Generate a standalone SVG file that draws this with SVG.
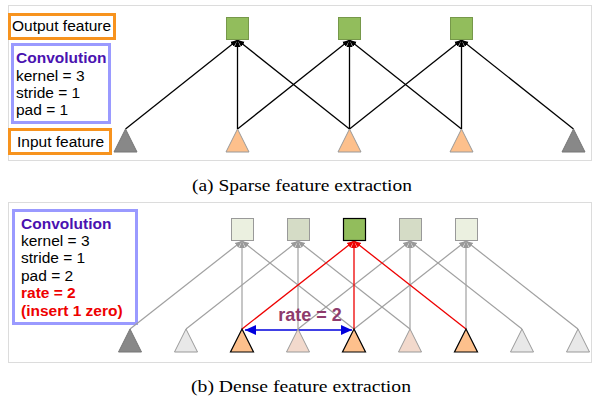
<svg xmlns="http://www.w3.org/2000/svg" width="610" height="404" viewBox="0 0 610 404">
<defs>
<marker id="ak" markerWidth="8" markerHeight="8" refX="7" refY="4" orient="auto" markerUnits="userSpaceOnUse"><path d="M0,1 L7,4 L0,7 Z" fill="#000"/></marker>
<marker id="ag" markerWidth="8" markerHeight="8" refX="7" refY="4" orient="auto" markerUnits="userSpaceOnUse"><path d="M0,1 L7,4 L0,7 Z" fill="#999"/></marker>
<marker id="ar" markerWidth="8" markerHeight="8" refX="7" refY="4" orient="auto" markerUnits="userSpaceOnUse"><path d="M0,1 L7,4 L0,7 Z" fill="#ee0000"/></marker>
<marker id="ab" markerWidth="12" markerHeight="10" refX="11" refY="5" orient="auto-start-reverse" markerUnits="userSpaceOnUse"><path d="M0,0 L11,5 L0,10 Z" fill="#0000dd"/></marker>
</defs>
<style>
.panel{fill:#fff;stroke:#dcdcdc;stroke-width:1}
.lbl{fill:#fff;stroke:#f7931e;stroke-width:3}
.conv{fill:#fff;stroke:#9a9aff;stroke-width:3}
.t{font-family:"Liberation Sans",Arial,sans-serif;font-size:15.5px;fill:#000}
.h{font-weight:bold;fill:#4a12b0}
.r{font-weight:bold;fill:#ee0000}
.cap{font-family:"Liberation Serif","DejaVu Serif",serif;font-size:16px;fill:#000}
.kl{stroke:#000;stroke-width:1.3;fill:none;marker-end:url(#ak)}
.gl{stroke:#a0a0a0;stroke-width:1.2;fill:none;marker-end:url(#ag)}
.rl{stroke:#ee0000;stroke-width:1.3;fill:none;marker-end:url(#ar)}
.sq{fill:#92bd5c;stroke:#76984a;stroke-width:1}
.tg{fill:#888;stroke:#777;stroke-width:1}
.to{fill:#fdc08c;stroke:#999;stroke-width:1}
.tob{fill:#fdc08c;stroke:#000;stroke-width:1.2}
.tl{fill:#e8e8e8;stroke:#999;stroke-width:1}
.tp{fill:#f2d9cc;stroke:#999;stroke-width:1}
</style>
<rect class="panel" x="8.5" y="5.5" width="583" height="155"/>
<rect class="panel" x="8.5" y="202.5" width="583" height="160"/>

<g id="legend-a">
<rect class="lbl" x="9.5" y="14.5" width="105" height="24"/>
<text class="t" x="12" y="31">Output feature</text>
<rect class="conv" x="12.5" y="44.5" width="97" height="78"/>
<text class="t h" x="16" y="63">Convolution</text>
<text class="t" x="16" y="81">kernel = 3</text>
<text class="t" x="16" y="98">stride = 1</text>
<text class="t" x="16" y="115">pad = 1</text>
<rect class="lbl" x="9.5" y="129.5" width="101" height="24"/>
<text class="t" x="17" y="147">Input feature</text>
</g>

<g id="connectors-a">
<line class="kl" x1="125.5" y1="129" x2="237.5" y2="40"/>
<line class="kl" x1="237.5" y1="129" x2="237.5" y2="40"/>
<line class="kl" x1="349.5" y1="129" x2="237.5" y2="40"/>
<line class="kl" x1="237.5" y1="129" x2="349.5" y2="40"/>
<line class="kl" x1="349.5" y1="129" x2="349.5" y2="40"/>
<line class="kl" x1="461.5" y1="129" x2="349.5" y2="40"/>
<line class="kl" x1="349.5" y1="129" x2="461.5" y2="40"/>
<line class="kl" x1="461.5" y1="129" x2="461.5" y2="40"/>
<line class="kl" x1="573.5" y1="129" x2="461.5" y2="40"/>
</g>

<g id="out-a1"><rect class="sq" x="226.5" y="17.5" width="22" height="22"/></g>
<g id="out-a2"><rect class="sq" x="338.5" y="17.5" width="22" height="22"/></g>
<g id="out-a3"><rect class="sq" x="450.5" y="17.5" width="22" height="22"/></g>
<g id="in-a1"><path class="tg" d="M125.5,129 L137,152 L114,152 Z"/></g>
<g id="in-a2"><path class="to" d="M237.5,129 L249,152 L226,152 Z"/></g>
<g id="in-a3"><path class="to" d="M349.5,129 L361,152 L338,152 Z"/></g>
<g id="in-a4"><path class="to" d="M461.5,129 L473,152 L450,152 Z"/></g>
<g id="in-a5"><path class="tg" d="M573.5,129 L585,152 L562,152 Z"/></g>

<text class="cap" x="302" y="191" text-anchor="middle" textLength="220" lengthAdjust="spacingAndGlyphs">(a) Sparse feature extraction</text>

<g id="legend-b">
<rect class="conv" x="13.5" y="210.5" width="123" height="113"/>
<text class="t h" x="21" y="229">Convolution</text>
<text class="t" x="21" y="246">kernel = 3</text>
<text class="t" x="21" y="263">stride = 1</text>
<text class="t" x="21" y="281">pad = 2</text>
<text class="t r" x="21" y="298">rate = 2</text>
<text class="t r" x="21" y="316">(insert 1 zero)</text>
</g>

<g id="connectors-b">
<line class="gl" x1="130" y1="329" x2="242" y2="241"/>
<line class="gl" x1="242" y1="329" x2="242" y2="241"/>
<line class="gl" x1="354" y1="329" x2="242" y2="241"/>
<line class="gl" x1="186" y1="329" x2="298" y2="241"/>
<line class="gl" x1="298" y1="329" x2="298" y2="241"/>
<line class="gl" x1="410" y1="329" x2="298" y2="241"/>
<line class="gl" x1="298" y1="329" x2="410" y2="241"/>
<line class="gl" x1="410" y1="329" x2="410" y2="241"/>
<line class="gl" x1="522" y1="329" x2="410" y2="241"/>
<line class="gl" x1="354" y1="329" x2="466" y2="241"/>
<line class="gl" x1="466" y1="329" x2="466" y2="241"/>
<line class="gl" x1="578" y1="329" x2="466" y2="241"/>
<line class="rl" x1="242" y1="329" x2="354" y2="241"/>
<line class="rl" x1="354" y1="329" x2="354" y2="241"/>
<line class="rl" x1="466" y1="329" x2="354" y2="241"/>
<line x1="245" y1="330" x2="352" y2="330" stroke="#0000dd" stroke-width="1.5" marker-start="url(#ab)" marker-end="url(#ab)"/>
</g>
<text x="310" y="321" text-anchor="middle" font-family="'Liberation Sans',Arial,sans-serif" font-size="18" font-weight="bold" fill="#8e3b6c">rate = 2</text>

<g id="out-b1"><rect x="231.5" y="218.5" width="22" height="22" fill="#ebf0e0" stroke="#999"/></g>
<g id="out-b2"><rect x="287.5" y="218.5" width="22" height="22" fill="#d5dcc6" stroke="#999"/></g>
<g id="out-b3"><rect x="343.5" y="218.5" width="22" height="22" fill="#92bd5c" stroke="#000" stroke-width="1.2"/></g>
<g id="out-b4"><rect x="399.5" y="218.5" width="22" height="22" fill="#d5dcc6" stroke="#999"/></g>
<g id="out-b5"><rect x="455.5" y="218.5" width="22" height="22" fill="#ebf0e0" stroke="#999"/></g>
<g id="in-b1"><path class="tg" d="M130,329 L141.5,352 L118.5,352 Z"/></g>
<g id="in-b2"><path class="tl" d="M186,329 L197.5,352 L174.5,352 Z"/></g>
<g id="in-b3"><path class="tob" d="M242,329 L253.5,352 L230.5,352 Z"/></g>
<g id="in-b4"><path class="tp" d="M298,329 L309.5,352 L286.5,352 Z"/></g>
<g id="in-b5"><path class="tob" d="M354,329 L365.5,352 L342.5,352 Z"/></g>
<g id="in-b6"><path class="tp" d="M410,329 L421.5,352 L398.5,352 Z"/></g>
<g id="in-b7"><path class="tob" d="M466,329 L477.5,352 L454.5,352 Z"/></g>
<g id="in-b8"><path class="tl" d="M522,329 L533.5,352 L510.5,352 Z"/></g>
<g id="in-b9"><path class="tl" d="M578,329 L589.5,352 L566.5,352 Z"/></g>

<text class="cap" x="301" y="392" text-anchor="middle" textLength="220" lengthAdjust="spacingAndGlyphs">(b) Dense feature extraction</text>
</svg>
